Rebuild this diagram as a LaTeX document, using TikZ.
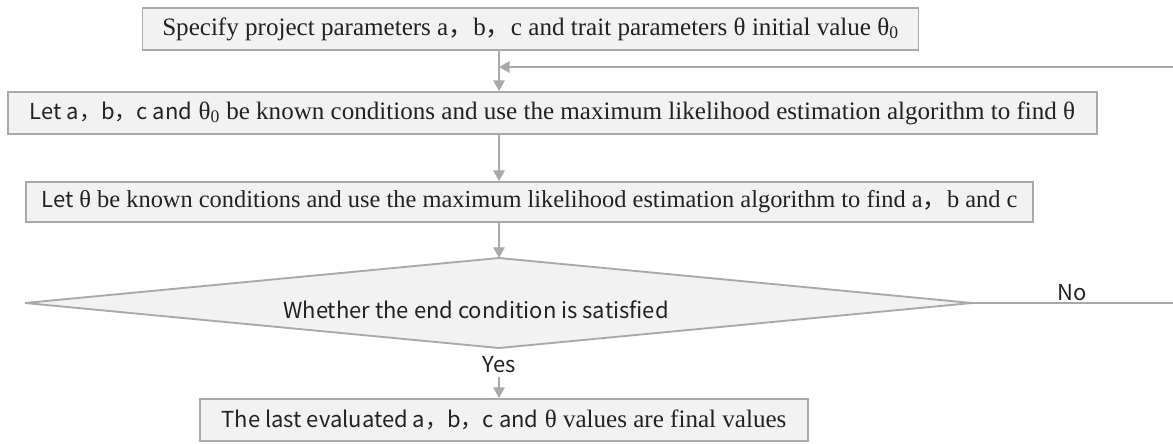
\documentclass[tikz,border=0pt]{standalone}
\usepackage{fontspec}
\setmainfont{Liberation Serif}
\newfontfamily\cjk{Noto Sans CJK SC}
\usetikzlibrary{arrows.meta}
\definecolor{boxfill}{HTML}{F2F2F2}
\definecolor{boxline}{HTML}{A9A9A9}
\definecolor{txt}{HTML}{222222}
\tikzset{
  flowbox/.style={draw=boxline,fill=boxfill,line width=1.4pt,inner sep=0pt,text=txt,font=\fontsize{18.8}{22}\selectfont},
  decide/.style={draw=boxline,fill=boxfill,line width=1.4pt},
  conn/.style={draw=boxline,line width=1.4pt},
  arr/.style={conn,-{Triangle[width=8.5pt,length=8pt]}},
  lbl/.style={text=txt,inner sep=0pt,font=\cjk\fontsize{16.5}{19}\selectfont}
}
\newcommand\sanstxt[1]{{\cjk\fontsize{16.5}{19}\selectfont #1}}
\begin{document}
\begin{tikzpicture}[x=0.75pt,y=-0.75pt]
\useasboundingbox (0,0) rectangle (1173,443);
\clip (0,0) rectangle (1173,443);
\node[flowbox,minimum width=582pt,minimum height=31pt] (b1) at (530.5,29)
  {Specify project parameters a{\cjk ，}b{\cjk ，}c and trait parameters θ initial value θ\textsubscript{0}};
\node[flowbox,minimum width=817pt,minimum height=31.5pt] (b2) at (552.5,113)
  {\sanstxt{Let a，b，c and} θ\textsubscript{0} be known conditions and use the maximum likelihood estimation algorithm to find θ};
\node[flowbox,font=\fontsize{18.3}{22}\selectfont,minimum width=755pt,minimum height=30pt] (b3) at (529.5,202)
  {\sanstxt{Let} θ be known conditions and use the maximum likelihood estimation algorithm to find a{\cjk ，}b and c};
\coordinate (dl) at (25,303);
\coordinate (dt) at (499,258);
\coordinate (dr) at (972,303);
\coordinate (db) at (499,348);
\filldraw[decide] (dl) -- (dt) -- (dr) -- (db) -- cycle;
\node[lbl] (dtext) at (476,310) {Whether the end condition is satisfied};
\node[flowbox,minimum width=456pt,minimum height=31.5pt] (b4) at (504,420)
  {\sanstxt{The last evaluated a，b，c and} θ values are final values};
\node[lbl] (yes) at (499,365) {Yes};
\node[lbl] (no) at (1072,293) {No};
\coordinate (ax) at (499,0);
\coordinate (r1) at (1200,303);
\coordinate (r2) at (1200,67);
\coordinate (join) at (499,67);
\draw[arr] (b1.south -| ax) -- (b2.north -| ax);
\draw[arr] (b2.south -| ax) -- (b3.north -| ax);
\draw[arr] (b3.south -| ax) -- (dt);
\draw[arr] (yes.south -| ax) ++(0,-3pt) -- (b4.north -| ax);
\draw[conn] (dr) -- (r1) -- (r2);
\draw[arr] (r2) -- (join);
\end{tikzpicture}
\end{document}
